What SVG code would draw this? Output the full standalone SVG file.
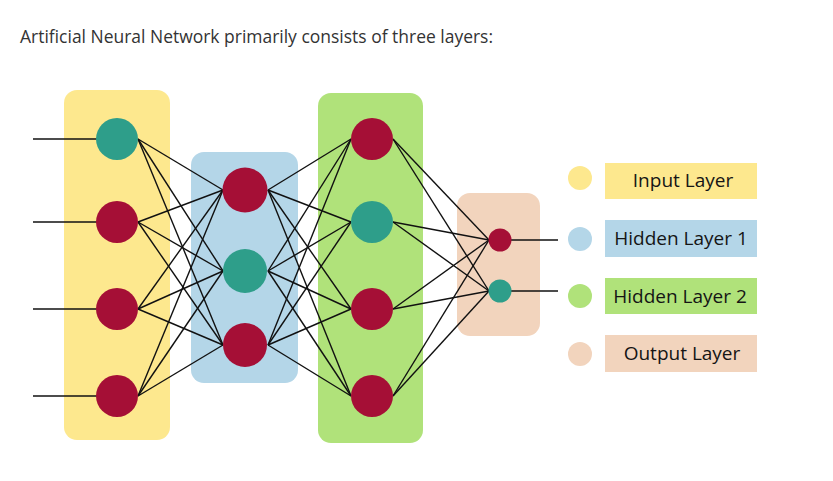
<svg xmlns="http://www.w3.org/2000/svg" width="833" height="481" viewBox="0 0 833 481">
<style>
.title{font-family:"Open Sans","Noto Sans",sans-serif;font-size:17.5px;fill:#333}
.leg{font-family:"Open Sans","Noto Sans",sans-serif;font-size:19px;fill:#151515;text-anchor:middle}
.red{fill:#A50F36}
.teal{fill:#2E9E8A}
.c line{stroke:#111;stroke-width:1.4}
.in{stroke:#111;stroke-width:2.2}
</style>
<rect width="833" height="481" fill="#fff"/>
<text class="title" x="20" y="43" textLength="473" lengthAdjust="spacingAndGlyphs">Artificial Neural Network primarily consists of three layers:</text>
<g id="layer-input-bg"><rect x="64" y="90" width="106" height="350" rx="13" fill="#FDE88E"/></g>
<g id="layer-h1-bg"><rect x="191" y="152" width="107" height="231" rx="13" fill="#B4D6E8"/></g>
<g id="layer-h2-bg"><rect x="318" y="93" width="105" height="350" rx="13" fill="#B0E27A"/></g>
<g id="layer-out-bg"><rect x="457" y="193" width="83" height="143" rx="13" fill="#F2D4BD"/></g>
<g id="connectors" class="c">
<line class="in" x1="33" y1="139" x2="117" y2="139"/>
<line class="in" x1="33" y1="222" x2="117" y2="222"/>
<line class="in" x1="33" y1="309" x2="117" y2="309"/>
<line class="in" x1="33" y1="396" x2="117" y2="396"/>
<line x1="138" y1="139" x2="223" y2="190"/><line x1="138" y1="139" x2="223" y2="271"/><line x1="138" y1="139" x2="223" y2="345"/>
<line x1="138" y1="222" x2="223" y2="190"/><line x1="138" y1="222" x2="223" y2="271"/><line x1="138" y1="222" x2="223" y2="345"/>
<line x1="138" y1="309" x2="223" y2="190"/><line x1="138" y1="309" x2="223" y2="271"/><line x1="138" y1="309" x2="223" y2="345"/>
<line x1="138" y1="396" x2="223" y2="190"/><line x1="138" y1="396" x2="223" y2="271"/><line x1="138" y1="396" x2="223" y2="345"/>
<line x1="268" y1="190" x2="351" y2="139"/><line x1="268" y1="190" x2="351" y2="222"/><line x1="268" y1="190" x2="351" y2="309"/><line x1="268" y1="190" x2="351" y2="396"/>
<line x1="268" y1="271" x2="351" y2="139"/><line x1="268" y1="271" x2="351" y2="222"/><line x1="268" y1="271" x2="351" y2="309"/><line x1="268" y1="271" x2="351" y2="396"/>
<line x1="268" y1="345" x2="351" y2="139"/><line x1="268" y1="345" x2="351" y2="222"/><line x1="268" y1="345" x2="351" y2="309"/><line x1="268" y1="345" x2="351" y2="396"/>
<line x1="393" y1="139" x2="489" y2="240"/><line x1="393" y1="139" x2="489" y2="291"/>
<line x1="393" y1="222" x2="489" y2="240"/><line x1="393" y1="222" x2="489" y2="291"/>
<line x1="393" y1="309" x2="489" y2="240"/><line x1="393" y1="309" x2="489" y2="291"/>
<line x1="393" y1="396" x2="489" y2="240"/><line x1="393" y1="396" x2="489" y2="291"/>
<line x1="500" y1="240" x2="558" y2="240"/>
<line x1="500" y1="291" x2="558" y2="291"/>
</g>
<g id="input-nodes">
<circle id="i1" class="teal" cx="117" cy="139" r="21"/>
<circle id="i2" class="red" cx="117" cy="222" r="21"/>
<circle id="i3" class="red" cx="117" cy="309" r="21"/>
<circle id="i4" class="red" cx="117" cy="396" r="21"/>
</g>
<g id="h1-nodes">
<circle id="h1a" class="red" cx="245" cy="190" r="22.5"/>
<circle id="h1b" class="teal" cx="245" cy="271" r="22"/>
<circle id="h1c" class="red" cx="245" cy="345" r="22"/>
</g>
<g id="h2-nodes">
<circle id="h2a" class="red" cx="372" cy="139" r="21"/>
<circle id="h2b" class="teal" cx="372" cy="222" r="21"/>
<circle id="h2c" class="red" cx="372" cy="309" r="21"/>
<circle id="h2d" class="red" cx="372" cy="396" r="21"/>
</g>
<g id="out-nodes">
<circle id="o1" class="red" cx="500" cy="240" r="11.5"/>
<circle id="o2" class="teal" cx="500" cy="291" r="11.5"/>
</g>
<g id="legend-input"><circle cx="580" cy="178" r="12" fill="#FDE88E"/><rect x="605" y="163" width="152" height="36" fill="#FDE88E"/><text class="leg" x="683" y="187">Input Layer</text></g>
<g id="legend-h1"><circle cx="580" cy="239" r="12" fill="#B4D6E8"/><rect x="605" y="220" width="152" height="37" fill="#B4D6E8"/><text class="leg" x="681" y="245">Hidden Layer 1</text></g>
<g id="legend-h2"><circle cx="580" cy="296" r="12" fill="#B0E27A"/><rect x="605" y="278" width="152" height="36" fill="#B0E27A"/><text class="leg" x="680" y="303">Hidden Layer 2</text></g>
<g id="legend-out"><circle cx="580" cy="354" r="12" fill="#F2D4BD"/><rect x="605" y="335" width="152" height="37" fill="#F2D4BD"/><text class="leg" x="682" y="360">Output Layer</text></g>
</svg>
